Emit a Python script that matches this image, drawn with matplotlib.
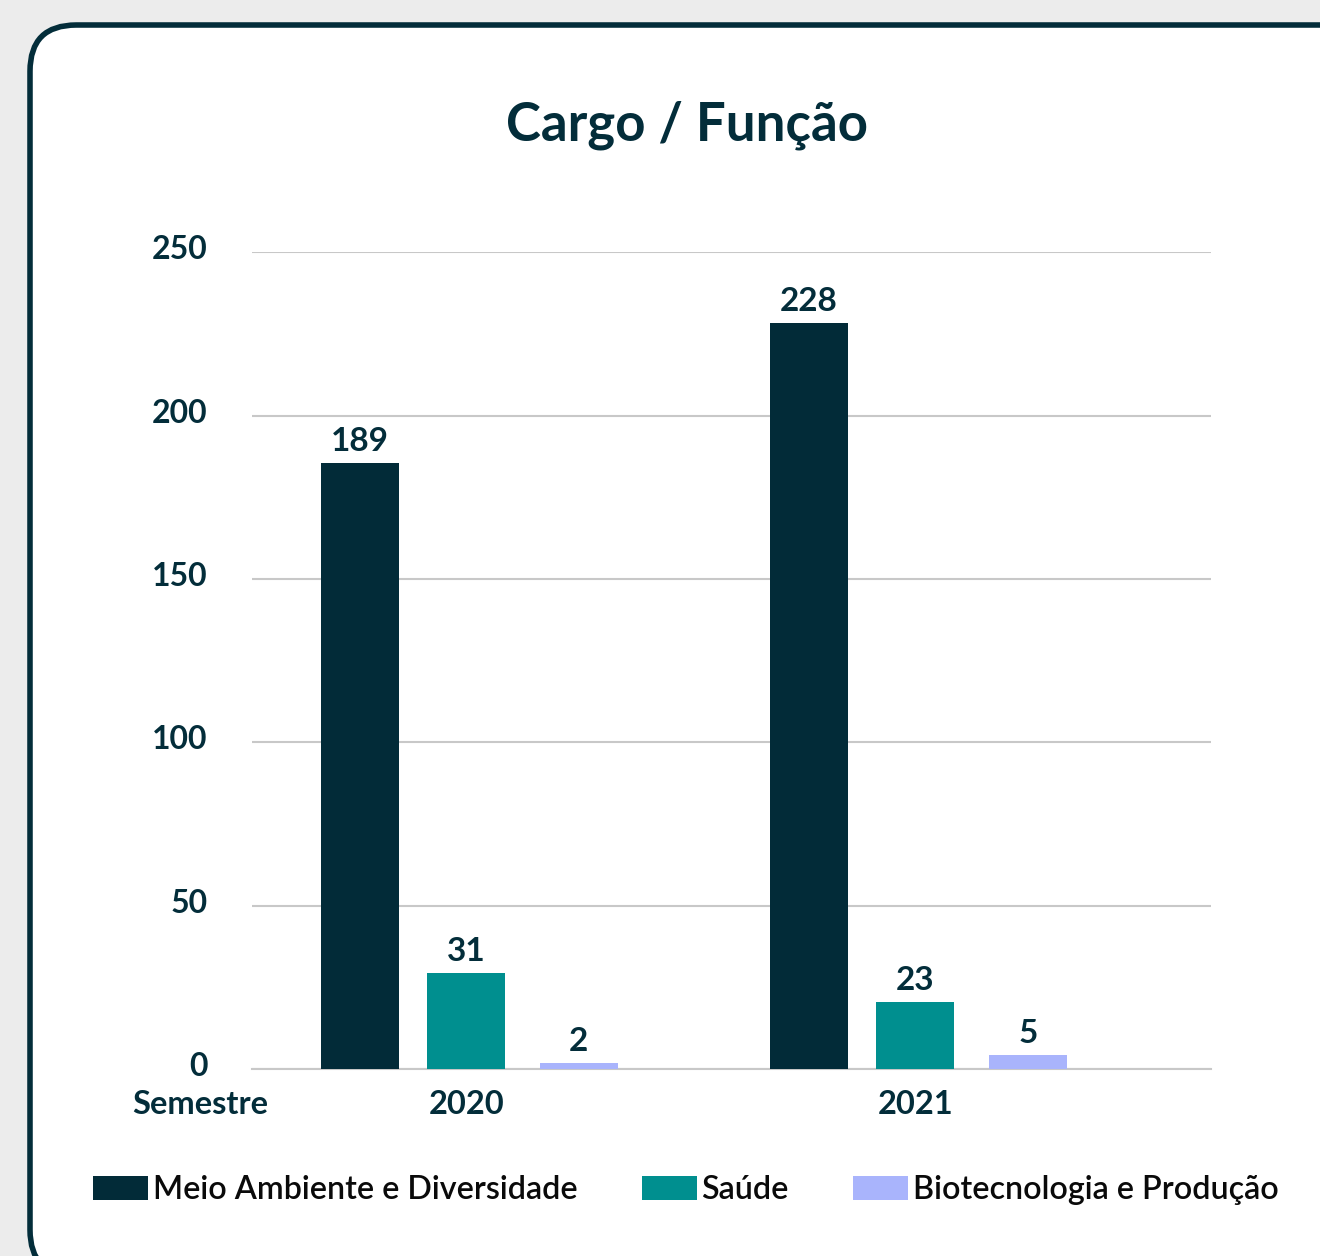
import matplotlib
matplotlib.use("Agg")
import matplotlib.pyplot as plt
import matplotlib.transforms as mtransforms
from matplotlib.patches import FancyBboxPatch
import numpy as np

plt.rcParams['font.family'] = ['Lato', 'DejaVu Sans']

# ---- data ----
title = "Cargo / Função"
semesters = ["2020", "2021"]
series_names = ["Meio Ambiente e Diversidade", "Saúde", "Biotecnologia e Produção"]
# bar heights as drawn in the picture
meio_ambiente = [185.6, 228.3]
saude = [29.5, 20.6]
biotecnologia = [1.9, 4.4]
# value labels as printed in the picture
meio_ambiente_labels = ["189", "228"]
saude_labels = ["31", "23"]
biotecnologia_labels = ["2", "5"]
y_ticks = [0, 50, 100, 150, 200, 250]
x_axis_name = "Semestre"

colors = ["#022b38", "#008f8f", "#a9b4fc"]
text_dark = "#032d3a"

W, H = 1320, 1256
fig = plt.figure(figsize=(W / 100, H / 100), dpi=100)
fig.patch.set_facecolor("#ececec")

# card
card = FancyBboxPatch((30 / W, -20 / H), 1400 / W, (H - 25 + 20) / H,
                      boxstyle="round,pad=0,rounding_size=0.035",
                      transform=fig.transFigure, facecolor="white",
                      edgecolor=text_dark, linewidth=4, zorder=-10,
                      mutation_aspect=W / H)
fig.patches.append(card)

ax = fig.add_axes([252 / W, (H - 1069) / H, (1211 - 252) / W, (1069 - 252.3) / H])
ax.set_facecolor("none")
ax.set_zorder(1)

x = np.arange(len(semesters))
offsets = [-0.237, 0.0, 0.251]
width = 0.173
series = [meio_ambiente, saude, biotecnologia]
labels = [meio_ambiente_labels, saude_labels, biotecnologia_labels]
for i, (vals, labs) in enumerate(zip(series, labels)):
    pos = x + offsets[i]
    bars = ax.bar(pos, vals, width=width, color=colors[i], label=series_names[i], zorder=3)
    for b, lab in zip(bars, labs):
        ax.annotate(lab, (b.get_x() + b.get_width() / 2, b.get_height()),
                    xytext=(0, 5), textcoords="offset points", ha="center", va="bottom",
                    fontsize=24, fontweight="bold", color=text_dark)

ax.set_xlim(-0.477, 1.659)
ax.set_ylim(0, 250)
ax.set_yticks(y_ticks)
ax.set_yticklabels([str(t) for t in y_ticks])
ax.grid(axis="y", color="#c8c8c8", linewidth=1.5, zorder=0)
ax.set_axisbelow(True)
for s in ["top", "right", "left"]:
    ax.spines[s].set_visible(False)
ax.spines["bottom"].set_color("#c8c8c8")
ax.spines["bottom"].set_linewidth(1.5)
ax.tick_params(axis="y", length=0, labelsize=23, labelcolor=text_dark, pad=32)
ax.tick_params(axis="x", length=0, labelsize=23.5, labelcolor=text_dark, pad=15)
ax.set_xticks(x)
ax.set_xticklabels(semesters)
for lab in ax.get_yticklabels() + ax.get_xticklabels():
    lab.set_fontweight("bold")
shift = mtransforms.ScaledTranslation(0, 5 / 100, fig.dpi_scale_trans)
for lab in ax.get_yticklabels():
    lab.set_transform(lab.get_transform() + shift)

fig.text(200 / W, (H - 1104) / H, x_axis_name, ha="center", va="center",
         fontsize=23.5, fontweight="bold", color=text_dark)

fig.text(687 / W, (H - 125) / H, title, ha="center", va="center",
         fontsize=38, fontweight="bold", color=text_dark)

leg = fig.legend(loc="center", bbox_to_anchor=(686 / W, (H - 1190) / H), ncol=3,
                 frameon=False, fontsize=23.2, handlelength=1.7, handleheight=0.75,
                 handletextpad=0.15, columnspacing=2.0, borderaxespad=0)
for t in leg.get_texts():
    t.set_color("#0a0a0a")
    t.set_fontweight("semibold")

fig.savefig("out.png", dpi=100, facecolor=fig.get_facecolor())
